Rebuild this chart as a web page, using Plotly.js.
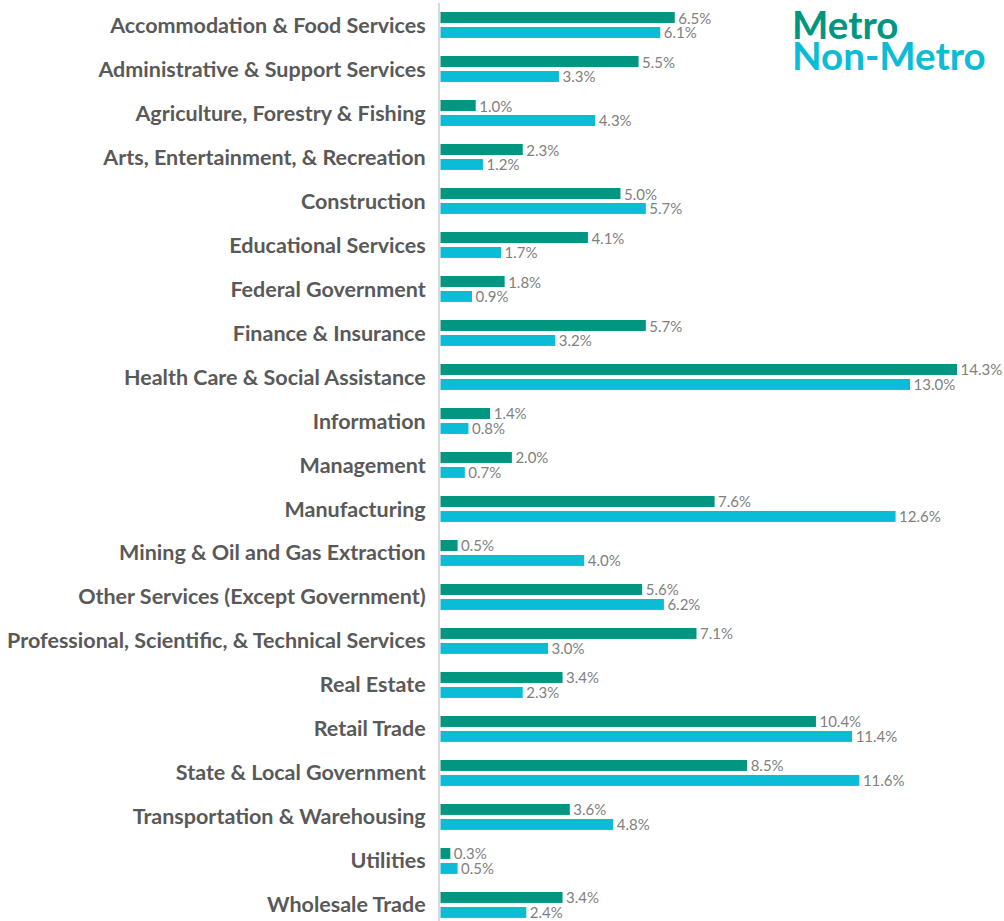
<!DOCTYPE html>
<html>
<head>
<meta charset="utf-8">
<script src="https://cdn.plot.ly/plotly-3.0.1.min.js"></script>
<style>html,body{margin:0;padding:0;background:#fff}#chart{width:1004px;height:921px}</style>
</head>
<body>
<div id="chart"></div>
<script>
const categories = [
  "Accommodation & Food Services",
  "Administrative & Support Services",
  "Agriculture, Forestry & Fishing",
  "Arts, Entertainment, & Recreation",
  "Construction",
  "Educational Services",
  "Federal Government",
  "Finance & Insurance",
  "Health Care & Social Assistance",
  "Information",
  "Management",
  "Manufacturing",
  "Mining & Oil and Gas Extraction",
  "Other Services (Except Government)",
  "Professional, Scientific, & Technical Services",
  "Real Estate",
  "Retail Trade",
  "State & Local Government",
  "Transportation & Warehousing",
  "Utilities",
  "Wholesale Trade"
];
const metroValues = [6.5,5.5,1.0,2.3,5.0,4.1,1.8,5.7,14.3,1.4,2.0,7.6,0.5,5.6,7.1,3.4,10.4,8.5,3.6,0.3,3.4];
const nonMetroValues = [6.1,3.3,4.3,1.2,5.7,1.7,0.9,3.2,13.0,0.8,0.7,12.6,4.0,6.2,3.0,2.3,11.4,11.6,4.8,0.5,2.4];
const seriesNames = ["Metro", "Non-Metro"];

const metroColor = "#00967f";
const nonMetroColor = "#0bbcd6";
const labelFont = {family: "Lato, 'Open Sans', sans-serif", size: 15, color: "#808080"};

function trace(name, vals, color) {
  return {
    type: "bar", orientation: "h", name: name,
    y: categories, x: vals,
    marker: {color: color, line: {color: "#ffffff", width: 1}},
    text: vals.map(v => v.toFixed(1) + "%"),
    textposition: "outside",
    constraintext: "none",
    cliponaxis: false,
    textfont: labelFont,
    outsidetextfont: labelFont,
    hoverinfo: "x+y"
  };
}

const data = [
  trace(seriesNames[0], metroValues, metroColor),
  trace(seriesNames[1], nonMetroValues, nonMetroColor)
];

const layout = {
  width: 1004, height: 921,
  margin: {l: 440, r: 12, t: 2.5, b: 0, pad: 0},
  paper_bgcolor: "#ffffff", plot_bgcolor: "#ffffff",
  barmode: "group", bargap: 0.32, bargroupgap: 0.2,
  showlegend: false,
  xaxis: {range: [0, 15.25], visible: false, fixedrange: true},
  yaxis: {
    type: "category",
    range: [20.365, -0.5],
    showline: true, linecolor: "#d9d9d9", linewidth: 2,
    showgrid: false, zeroline: false, ticks: "",
    ticklabelstandoff: 8,
    tickfont: {family: "Lato, 'Open Sans', sans-serif", size: 21.5, color: "#595959", weight: "bold"},
    fixedrange: true
  },
  annotations: [
    {text: seriesNames[0], xref: "paper", yref: "paper", x: 0.634, y: 0.9766, xanchor: "left", yanchor: "middle",
     showarrow: false, font: {family: "Lato, sans-serif", size: 38.5, color: metroColor, weight: "bold"}},
    {text: seriesNames[1], xref: "paper", yref: "paper", x: 0.634, y: 0.9434, xanchor: "left", yanchor: "middle",
     showarrow: false, font: {family: "Lato, sans-serif", size: 38.5, color: nonMetroColor, weight: "bold"}}
  ]
};

Plotly.newPlot("chart", data, layout, {displayModeBar: false, staticPlot: true});
</script>
</body>
</html>
